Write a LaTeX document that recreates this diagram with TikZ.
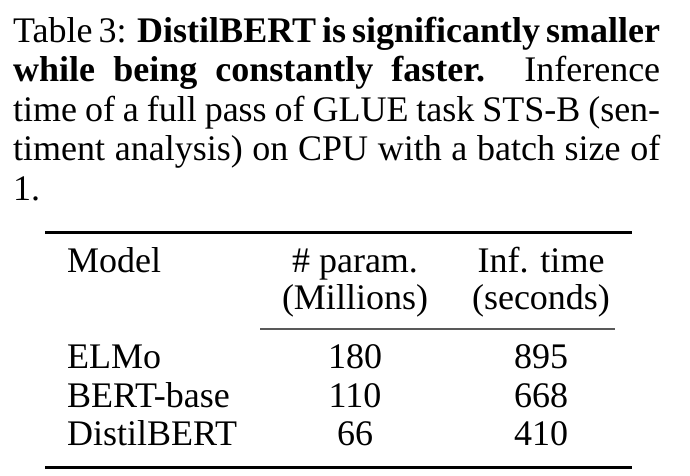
\documentclass[tikz,border=0pt]{standalone}
\usepackage{fontspec}
\setmainfont{Liberation Serif}
\usetikzlibrary{positioning}
\tikzset{
    caption/.style ={
        anchor=north west,
        inner sep=0pt,
        text width=647pt,
        align=justify,
        font=\fontsize{36}{39.5}\selectfont
    },
    cell/.style ={
        anchor=base,
        inner sep=0pt,
        font=\fontsize{36}{39.5}\selectfont
    },
    rowname/.style ={
        cell,
        anchor=base west
    },
    heavyrule/.style ={
        line width=3pt
    },
    lightrule/.style ={
        line width=1.6pt,
        draw=black!65
    }
}

\begin{document}
\begin{tikzpicture}[x=1pt,y=-1pt]
    \useasboundingbox (0,0) rectangle (690,475);
    \node[caption] (cap) at (13,16.5) {Table 3: \textbf{DistilBERT is significantly smaller while being constantly faster.} Inference\linebreak time of a full pass of GLUE task STS-B (sen-\linebreak timent analysis) on CPU with a batch size of\linebreak 1.};
    % rules
    \coordinate (toprule-l) at (45,232);
    \coordinate (toprule-r) at (632,232);
    \coordinate (midrule-l) at (260,329);
    \coordinate (midrule-r) at (615,329);
    \coordinate (botrule-l) at (45,467);
    \coordinate (botrule-r) at (632,467);
    \draw[heavyrule] (toprule-l) -- (toprule-r);
    \draw[lightrule] (midrule-l) -- (midrule-r);
    \draw[heavyrule] (botrule-l) -- (botrule-r);
    % header
    \node[rowname] (model) at (67,272) {Model};
    \node[cell] (param) at (355,272) {\# param.};
    \node[cell] (millions) at (355,309) {(Millions)};
    \node[cell] (inftime) at (541,272) {Inf. time};
    \node[cell] (seconds) at (541,309) {(seconds)};
    % body
    \node[rowname] (elmo) at (67,368) {ELMo};
    \node[rowname] (bert) at (67,407) {BERT-base};
    \node[rowname] (distil) at (67,445) {DistilBERT};
    \node[cell] (elmo-param) at (355,368) {180};
    \node[cell] (bert-param) at (355,407) {110};
    \node[cell] (distil-param) at (355,445) {66};
    \node[cell] (elmo-time) at (541,368) {895};
    \node[cell] (bert-time) at (541,407) {668};
    \node[cell] (distil-time) at (541,445) {410};
\end{tikzpicture}
\end{document}
